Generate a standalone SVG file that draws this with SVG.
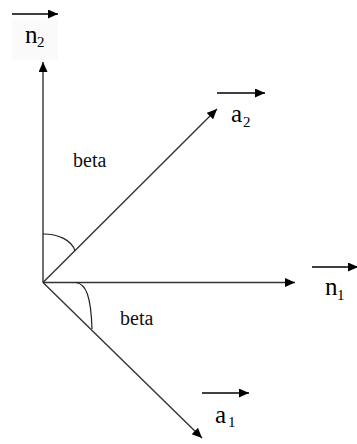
<svg xmlns="http://www.w3.org/2000/svg" width="357" height="444" viewBox="0 0 357 444">
<style>
.ln{stroke:#333;stroke-width:1.4;fill:none}
.ov{stroke:#000;stroke-width:1.5;fill:none}
.arc{stroke:#222;stroke-width:1.2;fill:none}
text{font-family:"Times New Roman",Times,serif;fill:#000}
.big{font-size:25px}
.sub{font-size:15px}
.beta{font-size:20px;fill:#111}
.bg{fill:#fafafa}
</style>
<defs>
<marker id="ah" markerUnits="userSpaceOnUse" markerWidth="11" markerHeight="10" refX="10" refY="4.5" orient="auto">
<path d="M0,0 L10,4.5 L0,9 z" fill="#000"/>
</marker>
</defs>
<rect width="357" height="444" fill="#fff"/>
<g id="connectors">
<line class="ln" x1="43" y1="282.5" x2="43" y2="62" marker-end="url(#ah)"/>
<line class="ln" x1="43" y1="282.5" x2="295" y2="282.5" marker-end="url(#ah)"/>
<line class="ln" x1="43" y1="282.5" x2="217" y2="109" marker-end="url(#ah)"/>
<line class="ln" x1="43" y1="282.5" x2="202" y2="438" marker-end="url(#ah)"/>
<path class="arc" d="M43,234 C58,234 72,240 75,251"/>
<path class="arc" d="M76,282.5 C86,284 91,296 92,329"/>
</g>
<g id="n2">
<rect class="bg" x="12" y="20" width="46" height="40"/>
<line class="ov" x1="12" y1="14" x2="58" y2="14" marker-end="url(#ah)"/>
<text class="big" x="25" y="43">n</text>
<text class="sub" x="37" y="47">2</text>
</g>
<g id="a2">
<line class="ov" x1="217" y1="93" x2="265" y2="93" marker-end="url(#ah)"/>
<text class="big" x="231" y="122">a</text>
<text class="sub" x="243" y="127">2</text>
</g>
<g id="n1">
<line class="ov" x1="312" y1="267" x2="358" y2="267" marker-end="url(#ah)"/>
<text class="big" x="325" y="295">n</text>
<text class="sub" x="337" y="300">1</text>
</g>
<g id="a1">
<line class="ov" x1="202" y1="393" x2="249" y2="393" marker-end="url(#ah)"/>
<text class="big" x="215" y="423">a</text>
<text class="sub" x="228" y="427">1</text>
</g>
<g id="beta1">
<text class="beta" x="73" y="167">beta</text>
</g>
<g id="beta2">
<text class="beta" x="120" y="325">beta</text>
</g>
</svg>
